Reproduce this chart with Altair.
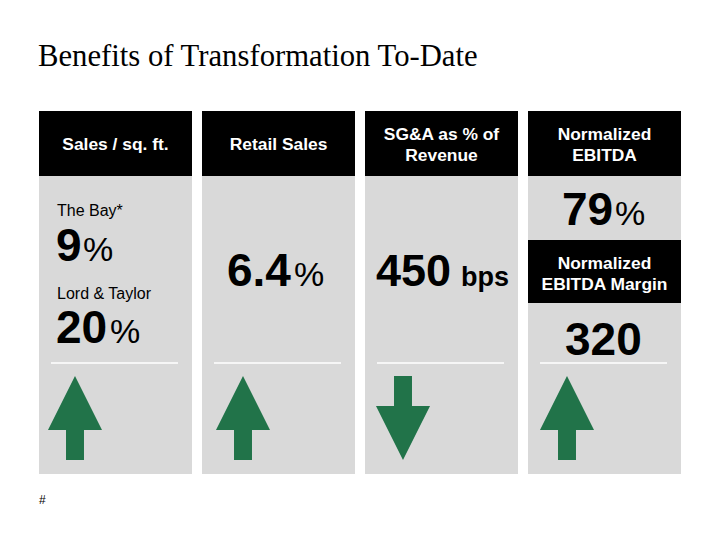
import altair as alt
import pandas as pd

# ---------------- content ----------------
TITLE = "Benefits of Transformation To-Date"
FOOTNOTE = "#"

panel_titles = ["Sales / sq. ft.", "Retail Sales", "SG&A as % of\nRevenue", "Normalized\nEBITDA"]
panel_direction = ["up", "up", "down", "up"]

sub_header_panel = [3]
sub_header_text = ["Normalized\nEBITDA Margin"]

value_panel = [0, 0, 1, 2, 3, 3]
value_label = ["The Bay*", "Lord & Taylor", "", "", "", ""]
value_number = ["9", "20", "6.4", "450", "79", "320"]
value_unit = ["%", "%", "%", "bps", "%", ""]

# ---------------- layout (pixels) ----------------
PANEL_LEFT0, PANEL_STEP, PANEL_W = 39, 163, 153
TOP, HEADER_BOTTOM, BOTTOM = 111, 176, 474
SUB_TOP, SUB_BOTTOM = 240, 303
SEP_Y = 363
LINE_H = 21
arrow_offset = [36, 41, 38, 39]
ARROW_CY = 418
ARROW_HALF = 42

value_num_dx = [17, 17, 188, 337, 523, 526]
value_num_size = [46, 46, 46, 45, 46, 46]
value_unit_dx = [44, 71, 255, 422, 576, 0]
value_y = [261, 343, 286, 286, 225, 355]
label_y = [216, 299, 0, 0, 0, 0]
unit_size = {"%": 34, "bps": 27, "": 0}

GRAY, BLACK, GREEN = "#d9d9d9", "#000000", "#217349"

def left(i):
    return PANEL_LEFT0 + i * PANEL_STEP

# ---------------- tables ----------------
rects = []
for i in range(len(panel_titles)):
    rects.append(dict(x=left(i), x2=left(i) + PANEL_W, y=TOP, y2=BOTTOM, fill=GRAY))
    rects.append(dict(x=left(i), x2=left(i) + PANEL_W, y=TOP, y2=HEADER_BOTTOM, fill=BLACK))
for p in sub_header_panel:
    rects.append(dict(x=left(p), x2=left(p) + PANEL_W, y=SUB_TOP, y2=SUB_BOTTOM, fill=BLACK))
rects = pd.DataFrame(rects)

seps = pd.DataFrame([dict(x=left(i) + 12, x2=left(i) + PANEL_W - 14, y=SEP_Y)
                     for i in range(len(panel_titles))])

headers = []
for i, t in enumerate(panel_titles):
    n = t.count("\n") + 1
    cy = (TOP + HEADER_BOTTOM) / 2
    headers.append(dict(x=left(i) + PANEL_W / 2, y=cy + 6.5 - (n - 1) * LINE_H / 2, text=t))
for p, t in zip(sub_header_panel, sub_header_text):
    n = t.count("\n") + 1
    cy = (SUB_TOP + SUB_BOTTOM) / 2
    headers.append(dict(x=left(p) + PANEL_W / 2, y=cy + 7.5 - (n - 1) * LINE_H / 2, text=t))
headers = pd.DataFrame(headers)

nums = pd.DataFrame(dict(
    x=[PANEL_LEFT0 + d for d in value_num_dx],
    y=value_y, text=value_number, size=value_num_size))
units_bold = pd.DataFrame([dict(x=PANEL_LEFT0 + value_unit_dx[k], y=value_y[k], text=u, size=unit_size[u])
                           for k, u in enumerate(value_unit) if u == "bps"])
units_reg = pd.DataFrame([dict(x=PANEL_LEFT0 + value_unit_dx[k], y=value_y[k], text=u, size=unit_size[u])
                          for k, u in enumerate(value_unit) if u == "%"])
labels = pd.DataFrame([dict(x=left(value_panel[k]) + 18, y=label_y[k], text=l)
                       for k, l in enumerate(value_label) if l])

arrows = pd.DataFrame([dict(x=left(i) + arrow_offset[i], y=ARROW_CY, dir=d)
                       for i, d in enumerate(panel_direction)])

title_df = pd.DataFrame([dict(x=38, y=66, text=TITLE)])
foot_df = pd.DataFrame([dict(x=39, y=504, text=FOOTNOTE)])

# ---------------- scales ----------------
X = lambda f="x": alt.X(f"{f}:Q", scale=alt.Scale(domain=[8, 712], nice=False, zero=False), axis=None)
Y = lambda f="y": alt.Y(f"{f}:Q", scale=alt.Scale(domain=[8, 532], nice=False, zero=False, reverse=True), axis=None)

UP = "M0,-1L0.643,0.286L0.214,0.286L0.214,1L-0.214,1L-0.214,0.286L-0.643,0.286Z"
DOWN = "M-0.214,-1L0.214,-1L0.214,-0.286L0.643,-0.286L0,1L-0.643,-0.286L-0.214,-0.286Z"

SANS = "Liberation Sans"

rect_layer = alt.Chart(rects).mark_rect().encode(
    x=X(), x2="x2:Q", y=Y(), y2="y2:Q", color=alt.Color("fill:N", scale=None))

sep_layer = alt.Chart(seps).mark_rule(color="white", strokeWidth=1.5).encode(
    x=X(), x2="x2:Q", y=Y())

arrow_layer = alt.Chart(arrows).mark_point(filled=True, fill=GREEN, opacity=1, strokeWidth=0).encode(
    x=X(), y=Y(),
    shape=alt.Shape("dir:N", scale=alt.Scale(domain=["up", "down"], range=[UP, DOWN]), legend=None),
    size=alt.value((2 * ARROW_HALF) ** 2))

header_layer = alt.Chart(headers).mark_text(
    align="center", baseline="alphabetic", lineBreak="\n", lineHeight=LINE_H,
    font=SANS, fontSize=17.4, fontWeight="bold", color="white").encode(
    x=X(), y=Y(), text="text:N")

num_layer = alt.Chart(nums).mark_text(
    align="left", baseline="alphabetic", font=SANS, fontWeight="bold", color="black").encode(
    x=X(), y=Y(), text="text:N", size=alt.Size("size:Q", scale=None))

unit_bold_layer = alt.Chart(units_bold).mark_text(
    align="left", baseline="alphabetic", font=SANS, fontWeight="bold", color="black").encode(
    x=X(), y=Y(), text="text:N", size=alt.Size("size:Q", scale=None))

unit_reg_layer = alt.Chart(units_reg).mark_text(
    align="left", baseline="alphabetic", font=SANS, fontWeight="normal", color="black").encode(
    x=X(), y=Y(), text="text:N", size=alt.Size("size:Q", scale=None))

label_layer = alt.Chart(labels).mark_text(
    align="left", baseline="alphabetic", font=SANS, fontSize=16, color="black").encode(
    x=X(), y=Y(), text="text:N")

title_layer = alt.Chart(title_df).mark_text(
    align="left", baseline="alphabetic", font="Liberation Serif", fontSize=30.7, color="black").encode(
    x=X(), y=Y(), text="text:N")

foot_layer = alt.Chart(foot_df).mark_text(
    align="left", baseline="alphabetic", font=SANS, fontSize=12, color="black").encode(
    x=X(), y=Y(), text="text:N")

chart = alt.layer(
    rect_layer, sep_layer, arrow_layer, header_layer, num_layer,
    unit_bold_layer, unit_reg_layer, label_layer, title_layer, foot_layer
).properties(
    width=704, height=524, padding=0,
    autosize=alt.AutoSizeParams(type="none"),
    background="white"
).configure_view(strokeWidth=0)

chart.save("out.html", embed_options={"renderer": "svg", "actions": False})
